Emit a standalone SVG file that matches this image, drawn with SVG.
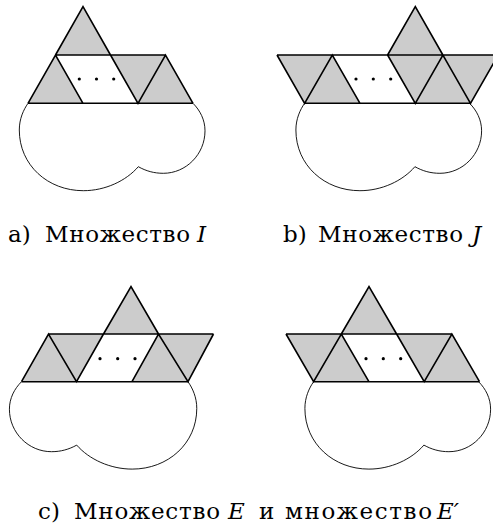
<svg xmlns="http://www.w3.org/2000/svg" width="493" height="532" viewBox="0 0 493 532">
<style>
.g{fill:#cccccc;stroke:none}
.b{fill:none;stroke:#000;stroke-width:1.6;stroke-linejoin:miter;stroke-linecap:butt}
.bl{fill:none;stroke:#000;stroke-width:0.9}
.d{fill:#000}
.t{font-family:"DejaVu Serif","Liberation Serif",serif;font-size:23px;fill:#000}
.i{font-style:italic}
</style>
<defs>
<path id="blob" class="bl" d="M0,0 C-4.5,6.5 -8.7,15.5 -8.7,26.7 C-8.7,62 20,87.4 55.3,87.4 C77,87.4 98,77.7 110.3,63.4 C118,67.7 126,70 135.3,70 C158,70 177,51 177,27.5 C177,16.5 172,7 165,0"/>
</defs>
<rect width="493" height="532" fill="#fff"/>

<g id="figA">
<use href="#blob" transform="translate(28,103.3)"/>
<polygon class="g" points="83,6.7 55.5,55 110.5,55"/>
<polygon class="g" points="28,103.3 55.5,55 83,103.3"/>
<polygon class="g" points="110.5,55 165.5,55 138,103.3"/>
<polygon class="g" points="138,103.3 165.5,55 193,103.3"/>
<path class="b" d="M55.5,55H165.5 M28,103.3H193 M28,103.3L55.5,55L83,103.3 M55.5,55L83,6.7L110.5,55L138,103.3L165.5,55L193,103.3"/>
<circle class="d" cx="79.3" cy="79" r="1.6"/><circle class="d" cx="96.5" cy="79" r="1.6"/><circle class="d" cx="113.7" cy="79" r="1.6"/>
</g>

<g id="figB">
<use href="#blob" transform="translate(304.6,103.3)"/>
<polygon class="g" points="277,55 332.3,55 304.6,103.3"/>
<polygon class="g" points="304.6,103.3 332.3,55 360,103.3"/>
<polygon class="g" points="415.3,6.7 387.6,55 442.9,55"/>
<polygon class="g" points="387.6,55 442.9,55 415.3,103.3"/>
<polygon class="g" points="415.3,103.3 442.9,55 470.5,103.3"/>
<polygon class="g" points="442.9,55 498.2,55 470.5,103.3"/>
<path class="b" d="M277,55H498.2 M304.6,103.3H470.5 M277,55L304.6,103.3L332.3,55L360,103.3 M387.6,55L415.3,103.3L442.9,55L470.5,103.3L498.2,55 M387.6,55L415.3,6.7L442.9,55"/>
<circle class="d" cx="356" cy="79" r="1.6"/><circle class="d" cx="373.3" cy="79" r="1.6"/><circle class="d" cx="390.7" cy="79" r="1.6"/>
</g>

<g id="figE">
<use href="#blob" transform="translate(188,381.7) scale(-1.009,1)"/>
<polygon class="g" points="21.5,381.7 48.5,334 76.5,381.7"/>
<polygon class="g" points="48.5,334 103.5,334 76.5,381.7"/>
<polygon class="g" points="131,286.7 103.5,334 158.5,334"/>
<polygon class="g" points="132,381.7 158.5,334 188,381.7"/>
<polygon class="g" points="158.5,334 213.5,334 188,381.7"/>
<path class="b" d="M48.5,334H213.5 M21.5,381.7H188 M21.5,381.7L48.5,334L76.5,381.7L103.5,334 M103.5,334L131,286.7L158.5,334 M132,381.7L158.5,334L188,381.7L213.5,334"/>
<circle class="d" cx="100" cy="358.7" r="1.6"/><circle class="d" cx="117.7" cy="358.7" r="1.6"/><circle class="d" cx="135" cy="358.7" r="1.6"/>
</g>

<g id="figE2">
<use href="#blob" transform="translate(313.6,381.7)"/>
<polygon class="g" points="286,334 341.3,334 313.6,381.7"/>
<polygon class="g" points="313.6,381.7 341.3,334 368.9,381.7"/>
<polygon class="g" points="369,286.7 341.3,334 396.6,334"/>
<polygon class="g" points="396.6,334 451.9,334 424.2,381.7"/>
<polygon class="g" points="424.2,381.7 451.9,334 479.5,381.7"/>
<path class="b" d="M286,334H451.9 M313.6,381.7H479.5 M286,334L313.6,381.7L341.3,334L368.9,381.7 M341.3,334L369,286.7L396.6,334L424.2,381.7L451.9,334L479.5,381.7"/>
<circle class="d" cx="366" cy="358.7" r="1.6"/><circle class="d" cx="383.3" cy="358.7" r="1.6"/><circle class="d" cx="400.7" cy="358.7" r="1.6"/>
</g>

<g id="labelA">
<text class="t" x="8" y="242">a)</text>
<text class="t" x="45" y="242" textLength="145" lengthAdjust="spacing">Множество</text>
<text class="t i" x="197" y="242">I</text>
</g>
<g id="labelB">
<text class="t" x="283" y="242">b)</text>
<text class="t" x="318" y="242" textLength="145" lengthAdjust="spacing">Множество</text>
<text class="t i" x="472" y="242">J</text>
</g>
<g id="labelC">
<text class="t" x="38" y="518.5">c)</text>
<text class="t" x="74" y="518.5" textLength="146" lengthAdjust="spacing">Множество</text>
<text class="t i" x="228" y="518.5">E</text>
<text class="t" x="259" y="518.5">и</text>
<text class="t" x="285" y="518.5" textLength="147" lengthAdjust="spacing">множество</text>
<text class="t i" x="437" y="518.5">E′</text>
</g>
</svg>
